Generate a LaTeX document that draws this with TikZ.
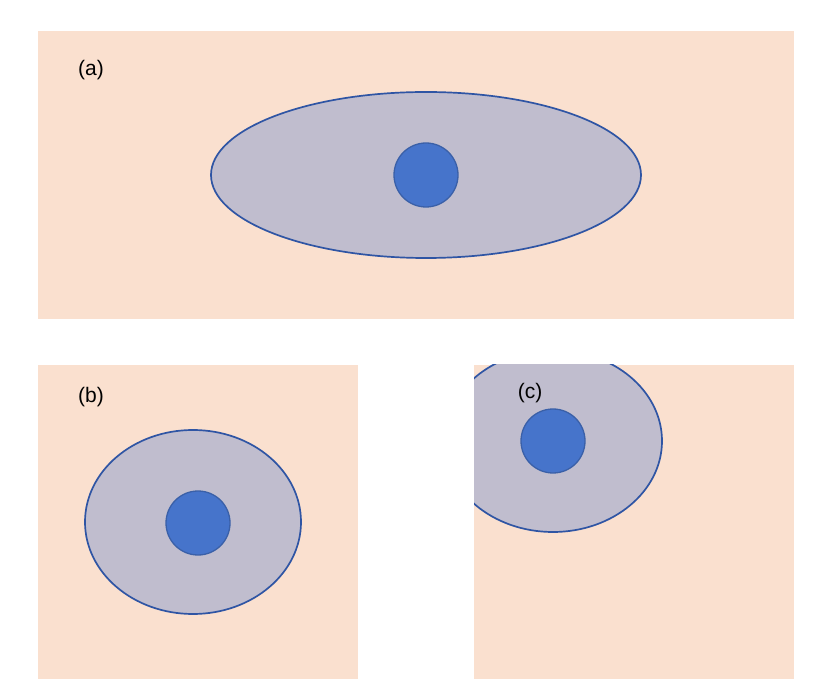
\documentclass[tikz,border=0pt]{standalone}
\usepackage{fontspec}
\setmainfont{Liberation Sans}
\begin{document}
\begin{tikzpicture}[x=1pt,y=-1pt,
  panel/.style={fill=bgpeach, draw=none},
  cell/.style={fill=cellgray, draw=edgeblue, line width=1.7pt},
  nucleus/.style={fill=nucblue, draw=nucedge, line width=1.3pt},
  lab/.style={font=\fontsize{21}{24}\selectfont, text=black, inner sep=0pt}]
\definecolor{bgpeach}{HTML}{FAE0CF}
\definecolor{cellgray}{HTML}{C0BDCE}
\definecolor{edgeblue}{HTML}{2F55A4}
\definecolor{nucblue}{HTML}{4674CB}
\definecolor{nucedge}{HTML}{3A60A8}
\useasboundingbox (0,0) rectangle (825,700);
% panel (a)
\path[panel] (38,31) rectangle (794,319);
\path[cell] (426,175) ellipse [x radius=215, y radius=83];
\path[nucleus] (426,175) circle [radius=32];
\node[lab] (la) at (91,70) {(a)};
% panel (b)
\path[panel] (38,365) rectangle (358,679);
\path[cell] (193,522) ellipse [x radius=108, y radius=92];
\path[nucleus] (198,523) circle [radius=32];
\node[lab] (lb) at (91,397) {(b)};
% panel (c)
\path[panel] (474,365) rectangle (794,679);
\begin{scope}
\clip (474,365) rectangle (794,679);
\path[cell] (553,441) ellipse [x radius=109, y radius=91];
\end{scope}
\path[nucleus] (553,441) circle [radius=32];
\node[lab] (lc) at (530,393) {(c)};
\end{tikzpicture}
\end{document}
